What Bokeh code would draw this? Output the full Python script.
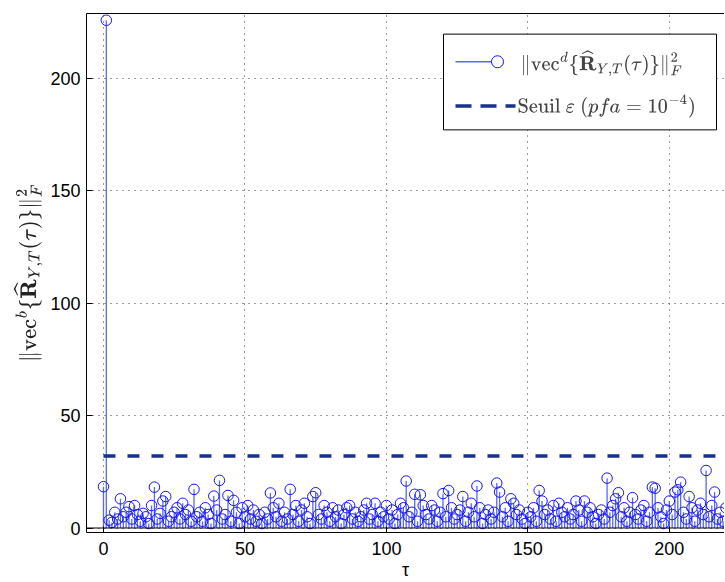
from bokeh.plotting import figure
from bokeh.models import Range1d, FixedTicker, LinearAxis, Label, Span
from bokeh.embed import file_html
from bokeh.resources import INLINE

# ---- data ----
stem_values = [
    18.4, 226, 3.5, 2.5, 7, 4, 13, 5, 7, 9.5,
    4, 10, 6, 3, 6.5, 5, 2, 10, 18.2, 4,
    6.5, 12, 14, 3, 5, 7, 9, 4, 11, 6,
    8, 3, 17.2, 5, 7, 3, 9, 6, 2, 14.2,
    8, 21.2, 4, 6, 14.5, 3, 12.3, 7, 2, 9,
    5, 10, 4, 8, 3, 6, 2, 7, 4, 15.6,
    9, 5, 11, 3, 7, 4, 17.2, 6, 10, 3,
    8, 11, 5, 2, 14, 15.7, 6, 4, 10, 7,
    3, 9, 5, 8, 2, 6, 9, 10, 4, 7,
    3, 5, 8, 11, 4, 6, 11, 3, 7, 5,
    10, 4, 8, 2, 6, 11, 9, 20.9, 5, 7,
    15, 3, 14.8, 10, 6, 4, 10, 8, 3, 7,
    15.3, 5, 16.7, 9, 4, 6, 8, 14, 3, 7,
    11, 5, 18.7, 9, 2, 6, 8, 4, 7, 20,
    16, 5, 9, 3, 13, 11, 6, 8, 4, 2,
    7, 5, 9, 3, 16.7, 12, 6, 8, 4, 10,
    3, 11, 7, 5, 9, 4, 6, 12, 8, 3,
    12, 7, 9, 5, 2, 6, 8, 4, 22.2, 7,
    10, 13, 15.7, 5, 9, 3, 7, 13.5, 6, 4,
    8, 10, 3, 7, 18.2, 17.7, 9, 5, 2, 8,
    12, 6, 16, 17, 20.4, 7, 4, 14, 9, 3,
    8, 11, 6, 25.6, 5, 10, 16, 4, 7, 3,
    9,
]
tau = list(range(len(stem_values)))
threshold = 32.0
x_ticks = [0, 50, 100, 150, 200]
y_ticks = [0, 50, 100, 150, 200]
legend_labels = [
    r"$$\|\mathrm{vec}^d\{\widehat{\mathbf{R}}_{Y,T}(\tau)\}\|_F^2$$",
    r"$$\mathrm{Seuil}\ \varepsilon\ (pfa = 10^{-4})$$",
]
y_label = r"$$\|\mathrm{vec}^b\{\widehat{\mathbf{R}}_{Y,T}(\tau)\}\|_F^2$$"

# ---- layout ----
X0, X1 = -6, 219.5
Y0, Y1 = -2, 229
FRAME_L, FRAME_W = 86, 638
FRAME_T, FRAME_H = 13.3, 520.5

def dx(px):
    return X0 + (px - FRAME_L) * (X1 - X0) / FRAME_W

def dy(py):
    return Y1 - (py - FRAME_T) * (Y1 - Y0) / FRAME_H

STEM = "#5868fa"
MARK = "#1414ff"
THR = "#17318e"
FONT = "Liberation Sans"

p = figure(width=724, height=582, x_range=Range1d(X0, X1), y_range=Range1d(Y0, Y1),
           output_backend="svg", toolbar_location=None,
           min_border_left=86, min_border_right=0, min_border_top=13, min_border_bottom=48)
p.outline_line_color = None
p.background_fill_color = "white"
p.border_fill_color = "white"

for ax in (p.xaxis[0], p.yaxis[0]):
    ax.major_tick_in = 6
    ax.major_tick_out = 0
    ax.minor_tick_line_color = None
    ax.axis_line_color = "black"
    ax.major_tick_line_color = "black"
    ax.major_label_text_font = FONT
    ax.major_label_text_font_size = "18px"
    ax.major_label_text_color = "black"

p.xaxis.ticker = FixedTicker(ticks=x_ticks)
p.yaxis.ticker = FixedTicker(ticks=y_ticks)
p.xaxis.major_label_standoff = 9
p.yaxis.major_label_standoff = 6
p.xaxis.axis_label = "τ"
p.xaxis.axis_label_text_font = FONT
p.xaxis.axis_label_text_font_size = "18px"
p.xaxis.axis_label_text_font_style = "normal"
p.xaxis.axis_label_text_color = "black"
p.xaxis.axis_label_standoff = 2
p.yaxis.axis_label = y_label
p.yaxis.axis_label_text_font_size = "18px"
p.yaxis.axis_label_text_color = "#222222"
p.yaxis.axis_label_standoff = 5

top = LinearAxis(ticker=FixedTicker(ticks=[]))
top.major_tick_in = 0
top.major_tick_out = 0
top.minor_tick_line_color = None
top.major_label_standoff = 0
p.add_layout(top, "above")

for g in (p.xgrid[0], p.ygrid[0]):
    g.grid_line_color = "#3a3a3a"
    g.grid_line_dash = "1 5"
    g.grid_line_width = 1
p.xgrid.ticker = FixedTicker(ticks=x_ticks)
p.ygrid.ticker = FixedTicker(ticks=y_ticks)

# stems
p.segment(x0=tau, y0=[0] * len(tau), x1=tau, y1=stem_values, line_color=STEM, line_width=1.3)
p.scatter(tau, stem_values, marker="circle", size=10.5, fill_color=None, line_color=MARK, line_width=1)
p.add_layout(Span(location=0, dimension="width", line_color="black", line_width=1))

# threshold
p.line([tau[0], tau[-1]], [threshold, threshold], line_color=THR, line_width=3.5, line_dash="12 12")

# legend (manual)
p.quad(left=[dx(443)], right=[dx(716)], top=[dy(34)], bottom=[dy(130)],
       fill_color="white", line_color="black", line_width=1)
p.line([dx(455), dx(497)], [dy(61.7), dy(61.7)], line_color=STEM, line_width=1.3)
p.scatter([dx(497)], [dy(61.7)], marker="circle", size=12, fill_color="white", line_color=MARK, line_width=1)
p.line([dx(455), dx(515)], [dy(106), dy(106)], line_color=THR, line_width=3.5, line_dash="16 9")
p.add_layout(Label(x=dx(520), y=dy(62), text=legend_labels[0], text_font_size="17.2px",
                   text_baseline="middle", text_align="left"))
p.add_layout(Label(x=dx(517), y=dy(106), text=legend_labels[1], text_font_size="17.2px",
                   text_baseline="middle", text_align="left"))

open("out.html", "w").write(file_html(p, INLINE))
